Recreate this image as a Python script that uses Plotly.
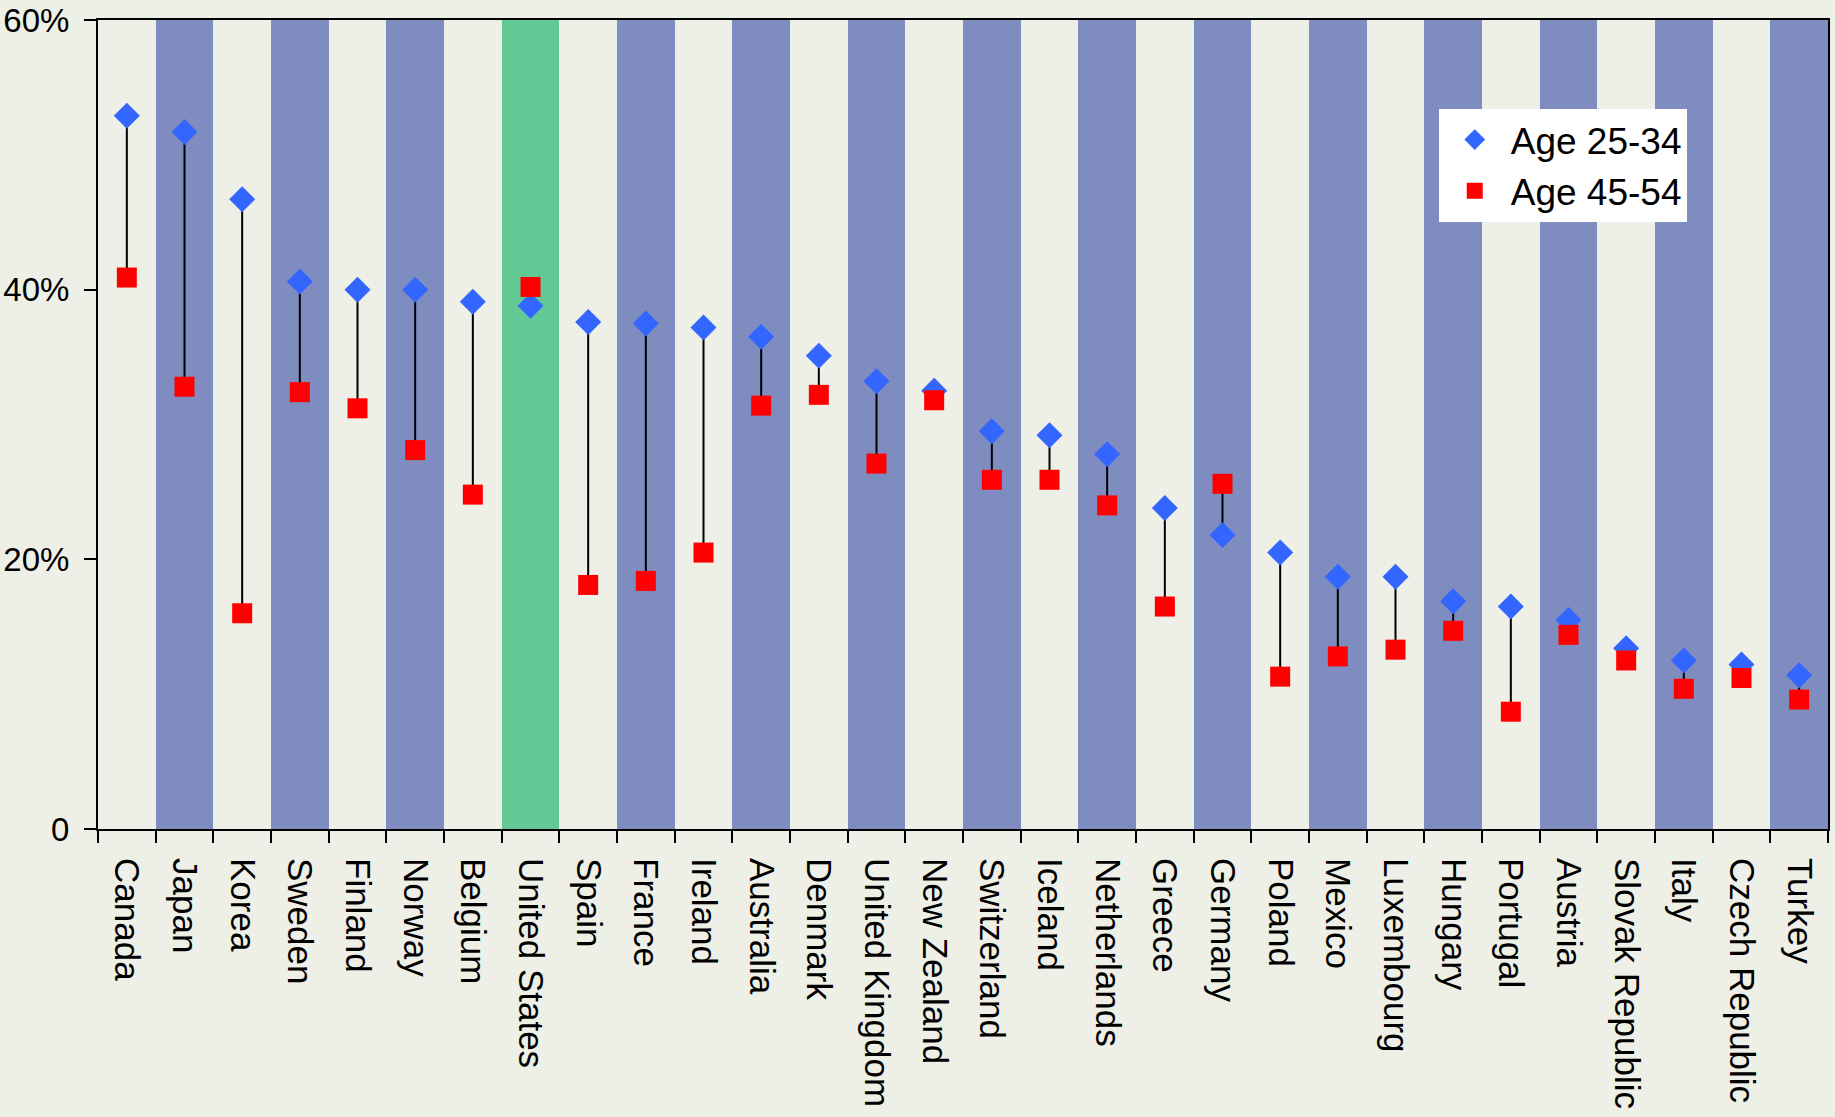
import plotly.graph_objects as go

countries = ["Canada", "Japan", "Korea", "Sweden", "Finland", "Norway", "Belgium",
             "United States", "Spain", "France", "Ireland", "Australia", "Denmark",
             "United Kingdom", "New Zealand", "Switzerland", "Iceland", "Netherlands",
             "Greece", "Germany", "Poland", "Mexico", "Luxembourg", "Hungary",
             "Portugal", "Austria", "Slovak Republic", "Italy", "Czech Republic", "Turkey"]
age_25_34 = [52.9, 51.7, 46.7, 40.6, 40.0, 40.0, 39.1, 38.8, 37.6, 37.5, 37.2, 36.5, 35.1,
             33.2, 32.5, 29.5, 29.2, 27.8, 23.8, 21.8, 20.5, 18.7, 18.7, 16.9, 16.5, 15.5,
             13.4, 12.5, 12.2, 11.4]
age_45_54 = [40.9, 32.8, 16.0, 32.4, 31.2, 28.1, 24.8, 40.2, 18.1, 18.4, 20.5, 31.4, 32.2,
             27.1, 31.8, 25.9, 25.9, 24.0, 16.5, 25.6, 11.3, 12.8, 13.3, 14.7, 8.7, 14.4,
             12.5, 10.4, 11.2, 9.6]
y_ticks = [0, 20, 40, 60]
y_tick_labels = ["0", "20%", "40%", "60%"]
highlight = "United States"

BG = "#EEEFE6"
BAND = "#7F8CC0"
GREEN = "#62C994"

band_colors = []
for i, c in enumerate(countries):
    if c == highlight:
        band_colors.append(GREEN)
    elif i % 2 == 1:
        band_colors.append(BAND)
    else:
        band_colors.append("rgba(0,0,0,0)")

y_max = max(y_ticks)

fig = go.Figure()
fig.add_trace(go.Bar(x=countries, y=[y_max] * len(countries),
                     marker=dict(color=band_colors, line=dict(width=0)),
                     showlegend=False, hoverinfo="skip"))

lx, ly = [], []
for c, a, b in zip(countries, age_25_34, age_45_54):
    lx += [c, c, None]
    ly += [a, b, None]
fig.add_trace(go.Scatter(x=lx, y=ly, mode="lines", line=dict(color="black", width=2),
                         showlegend=False, hoverinfo="skip"))

fig.add_trace(go.Scatter(x=countries, y=age_25_34, mode="markers", name="Age 25-34",
                         marker=dict(symbol="diamond", size=20, color="#3366FF")))
fig.add_trace(go.Scatter(x=countries, y=age_45_54, mode="markers", name="Age 45-54",
                         marker=dict(symbol="square", size=20, color="#FF0000")))

font = "Liberation Sans, Arial, sans-serif"
fig.update_layout(
    width=1835, height=1117,
    margin=dict(l=98, r=7, t=20, b=288, autoexpand=False),
    paper_bgcolor=BG, plot_bgcolor=BG,
    bargap=0,
    font=dict(family=font, size=35, color="black"),
    legend=dict(x=0.775, y=0.89, xanchor="left", yanchor="top", bgcolor="white",
                font=dict(size=37), borderwidth=0, itemwidth=62),
    xaxis=dict(type="category", tickangle=90, tickson="boundaries", ticks="outside",
               ticklen=12, tickwidth=2, tickcolor="black", showline=True, linecolor="black",
               linewidth=2, mirror=True, showgrid=False, range=[-0.5, len(countries) - 0.5],
               tickfont=dict(size=35), ticklabelstandoff=20, automargin=False),
    yaxis=dict(range=[0, y_max], tickvals=y_ticks, ticktext=y_tick_labels, ticks="outside",
               ticklen=12, tickwidth=2, tickcolor="black", showline=True, linecolor="black",
               linewidth=2, mirror=True, showgrid=False, zeroline=False,
               tickfont=dict(size=33), ticklabelstandoff=8, automargin=False,
               ticklabeloverflow="allow"),
)

fig.write_html("out.html", config={"displayModeBar": False},
               post_script="document.body.style.margin='0';document.body.style.background='" + BG + "';")
